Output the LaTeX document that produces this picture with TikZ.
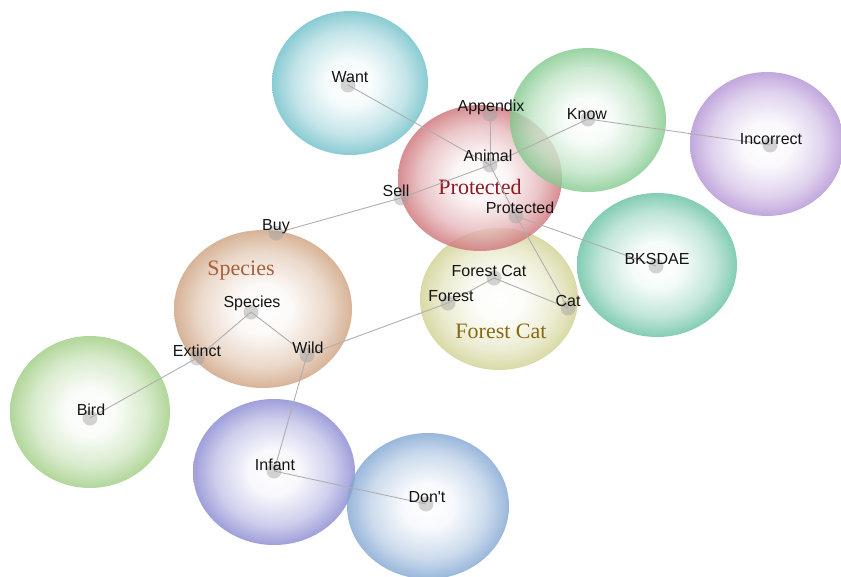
\documentclass[tikz,border=0pt]{standalone}
\usepackage{fontspec}
\setmainfont{Liberation Sans}[Ligatures=TeXOff]
\newfontfamily\titlefont{Liberation Serif}
\usetikzlibrary{shapes.geometric}
\colorlet{bubcol}{white}
\pgfdeclareradialshading[bubcol]{bubble}{\pgfpoint{0bp}{0bp}}{color(0bp)=(white); color(8bp)=(bubcol!8!white); color(18bp)=(bubcol!50!white); color(25bp)=(bubcol); color(50bp)=(bubcol)}
\definecolor{cWant}{RGB}{108,190,200}
\definecolor{cKnow}{RGB}{128,200,140}
\definecolor{cIncorrect}{RGB}{178,145,212}
\definecolor{cProt}{RGB}{205,112,118}
\definecolor{cBKS}{RGB}{100,192,160}
\definecolor{cForest}{RGB}{208,208,145}
\definecolor{cSpecies}{RGB}{205,160,125}
\definecolor{cBird}{RGB}{158,204,128}
\definecolor{cInfant}{RGB}{135,135,210}
\definecolor{cDont}{RGB}{128,165,210}
\definecolor{edgecol}{RGB}{175,175,175}
\definecolor{tProt}{RGB}{145,25,35}
\definecolor{tSpecies}{RGB}{170,95,55}
\definecolor{tForest}{RGB}{135,105,20}
\tikzset{
  bub/.style={ellipse, inner sep=0pt, draw=none, fill opacity=0.8,
    /utils/exec={\colorlet{bubcol}{#1}}, shading=bubble},
  dotn/.style={circle, inner sep=0pt, minimum size=15pt, fill=gray!75, fill opacity=0.45, draw=none},
  lbl/.style={font=\fontsize{16}{17}\selectfont, inner sep=0pt, text=black!92},
  ttl/.style={font=\titlefont\fontsize{22}{24}\selectfont, inner sep=0pt},
  edge/.style={draw=edgecol, line width=0.9pt}
}
\begin{document}
\begin{tikzpicture}[x=1pt,y=-1pt]
\useasboundingbox (0,0) rectangle (841,576);
% cluster bubbles
\node[bub=cWant, minimum width=156pt, minimum height=144pt] (bWant) at (350,83) {};
\node[bub=cIncorrect, minimum width=154pt, minimum height=144pt] (bInc) at (767,144) {};
\node[bub=cBKS, minimum width=160pt, minimum height=144pt] (bBks) at (657,265) {};
\node[bub=cForest, minimum width=158pt, minimum height=142pt] (bForest) at (499,299) {};
\node[bub=cProt, minimum width=164pt, minimum height=146pt] (bProt) at (480,178) {};
\node[bub=cKnow, minimum width=156pt, minimum height=144pt] (bKnow) at (588,120) {};
\node[bub=cSpecies, minimum width=178pt, minimum height=158pt] (bSpecies) at (263,309) {};
\node[bub=cBird, minimum width=160pt, minimum height=152pt] (bBird) at (90,412) {};
\node[bub=cInfant, minimum width=162pt, minimum height=146pt] (bInfant) at (274,472) {};
\node[bub=cDont, minimum width=162pt, minimum height=146pt] (bDont) at (428,506) {};
% cluster titles
\node[ttl, text=tProt] (tP) at (480,187) {Protected};
\node[ttl, text=tSpecies] (tS) at (241,271) {Species};
\node[ttl, text=tForest] (tF) at (501,331) {Forest Cat};
% concept dots
\node[dotn] (want) at (348,85) {};
\node[dotn] (appendix) at (490,114) {};
\node[dotn] (know) at (588,119) {};
\node[dotn] (incorrect) at (770,145) {};
\node[dotn] (animal) at (490,165) {};
\node[dotn] (sell) at (401,198) {};
\node[dotn] (protected) at (516,216) {};
\node[dotn] (buy) at (276,233) {};
\node[dotn] (bksdae) at (656,266) {};
\node[dotn] (forestcat) at (494,278) {};
\node[dotn] (forest) at (448,303) {};
\node[dotn] (cat) at (568,308) {};
\node[dotn] (species) at (251,312) {};
\node[dotn] (extinct) at (197,358) {};
\node[dotn] (wild) at (307,355) {};
\node[dotn] (bird) at (90,418) {};
\node[dotn] (infant) at (274,471) {};
\node[dotn] (dont) at (426,504) {};
% edges
\draw[edge] (want.center) -- (animal.center);
\draw[edge] (appendix.center) -- (animal.center);
\draw[edge] (animal.center) -- (know.center);
\draw[edge] (know.center) -- (incorrect.center);
\draw[edge] (animal.center) -- (sell.center);
\draw[edge] (sell.center) -- (buy.center);
\draw[edge] (animal.center) -- (protected.center);
\draw[edge] (protected.center) -- (bksdae.center);
\draw[edge] (protected.center) -- (cat.center);
\draw[edge] (forestcat.center) -- (cat.center);
\draw[edge] (forestcat.center) -- (forest.center);
\draw[edge] (forest.center) -- (wild.center);
\draw[edge] (species.center) -- (wild.center);
\draw[edge] (species.center) -- (extinct.center);
\draw[edge] (extinct.center) -- (bird.center);
\draw[edge] (wild.center) -- (infant.center);
\draw[edge] (infant.center) -- (dont.center);
% labels
\node[lbl] (lwant) at (350,77) {Want};
\node[lbl] (lappendix) at (491,107) {Appendix};
\node[lbl] (lknow) at (587,114) {Know};
\node[lbl] (lincorrect) at (771,139) {Incorrect};
\node[lbl] (lanimal) at (488,156) {Animal};
\node[lbl] (lsell) at (396,191) {Sell};
\node[lbl] (lprotected) at (520,208) {Protected};
\node[lbl] (lbuy) at (276,227) {Buy};
\node[lbl] (lbksdae) at (657,259) {BKSDAE};
\node[lbl] (lforestcat) at (489,271) {Forest Cat};
\node[lbl] (lforest) at (451,296) {Forest};
\node[lbl] (lcat) at (568,301) {Cat};
\node[lbl] (lspecies) at (252,303) {Species};
\node[lbl] (lextinct) at (197,351) {Extinct};
\node[lbl] (lwild) at (308,348) {Wild};
\node[lbl] (lbird) at (91,410) {Bird};
\node[lbl] (linfant) at (275,465) {Infant};
\node[lbl] (ldont) at (427,497) {Don't};
\end{tikzpicture}
\end{document}
